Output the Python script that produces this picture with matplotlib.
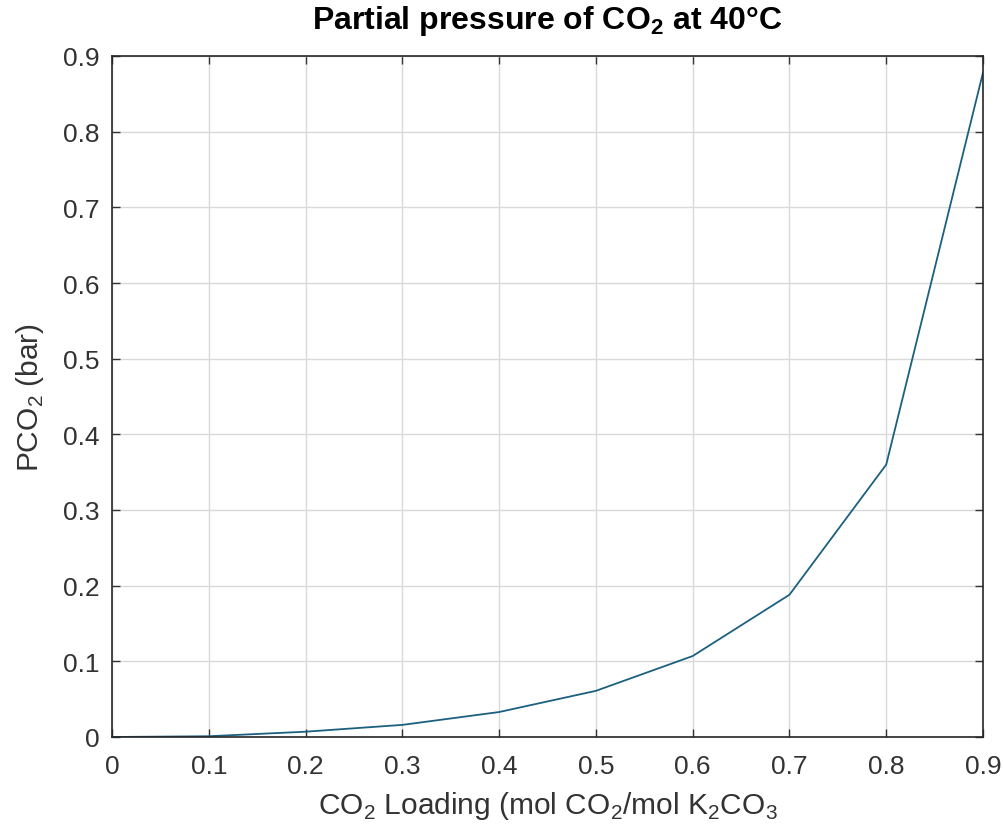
import matplotlib
matplotlib.use('Agg')
import matplotlib.pyplot as plt

# data
loading = [0.0, 0.1, 0.2, 0.3, 0.4, 0.5, 0.6, 0.7, 0.8, 0.9]
pco2 = [0.0, 0.001, 0.007, 0.016, 0.033, 0.061, 0.107, 0.188, 0.36, 0.878]
xticks = [0, 0.1, 0.2, 0.3, 0.4, 0.5, 0.6, 0.7, 0.8, 0.9]
yticks = [0, 0.1, 0.2, 0.3, 0.4, 0.5, 0.6, 0.7, 0.8, 0.9]

plt.rcParams['font.family'] = ['Liberation Sans', 'DejaVu Sans']
plt.rcParams['mathtext.fontset'] = 'custom'
plt.rcParams['mathtext.rm'] = 'Liberation Sans'
plt.rcParams['mathtext.bf'] = 'Liberation Sans:bold'

fig = plt.figure(figsize=(10.04, 8.37), dpi=100)
ax = fig.add_axes([112 / 1004, 1 - 738 / 837, (983 - 112) / 1004, (738 - 57) / 837])

ax.plot(loading, pco2, color='#1c6080', lw=1.3)

ax.set_xlim(0, 0.9)
ax.set_ylim(0, 0.9)
ax.set_xticks(xticks)
ax.set_yticks(yticks)
ax.set_xticklabels([f'{t:g}' for t in xticks])
ax.set_yticklabels([f'{t:g}' for t in yticks])
ax.tick_params(direction='in', length=6, width=1, top=True, right=True,
               labelsize=19, colors='#333333')
ax.tick_params(axis='x', pad=12)
ax.tick_params(axis='y', pad=9)
ax.grid(True, color='#d9d9d9', lw=1)
for s in ax.spines.values():
    s.set_color('#262626')
    s.set_linewidth(1.2)

ax.set_xlabel(r'CO$_2$ Loading (mol CO$_2$/mol K$_2$CO$_3$', fontsize=21.5, color='#333333', labelpad=8)
ax.set_ylabel(r'PCO$_2$ (bar)', fontsize=21.5, color='#333333', labelpad=12)
ax.set_title(r'Partial pressure of CO$_\mathbf{2}$ at 40°C', fontsize=23, fontweight='bold', pad=20)

fig.savefig('out.png', dpi=100)
